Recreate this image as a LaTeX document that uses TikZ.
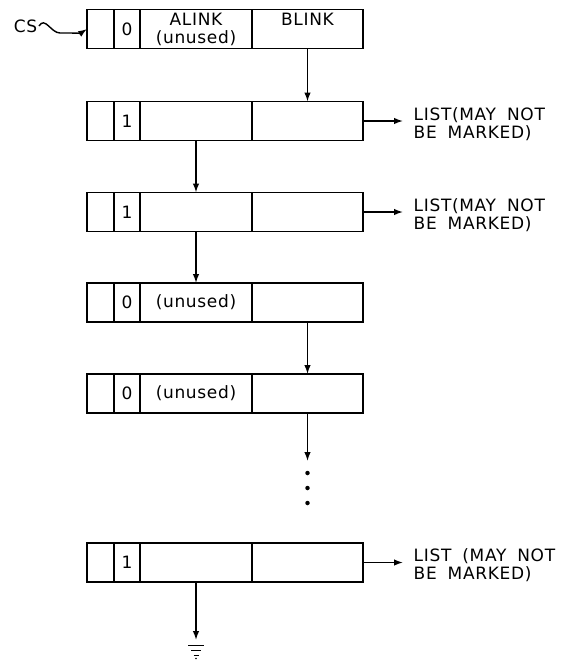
\documentclass[tikz,border=0pt]{standalone}
\usepackage{fontspec}
\setmainfont{DejaVu Sans}[LetterSpace=4, WordSpace=1.8]
\usepackage{tikz}
\usetikzlibrary{arrows.meta,positioning}

\tikzset{
  cell/.style={draw, rectangle, minimum height=39pt, inner sep=0pt, outer sep=0pt},
  note/.style={align=left, inner sep=0pt},
  dot/.style={circle, fill=black, inner sep=0pt, minimum size=4.5pt}
}

\begin{document}
\begin{tikzpicture}[x=1pt, y=-1pt, line width=1.4pt, >={Latex[length=9pt,width=6.5pt]},
  font=\fontsize{17}{18}\selectfont]
\path[use as bounding box] (0,0) rectangle (566,662);
% the cells, one row per list element
\foreach \r/\y/\bit/\atxt/\btxt in {0/29/0/{ALINK\\(unused)}/{BLINK\\\phantom{(unused)}},
    1/121/1/{}/{}, 2/212/1/{}/{}, 3/302.5/0/{(unused)}/{}, 4/393.5/0/{(unused)}/{}, 5/562.5/1/{}/{}} {
  \node[cell, minimum width=27pt, anchor=west] (f\r) at (87,\y) {};
  \node[cell, minimum width=26pt, right=0pt of f\r] (m\r) {\bit};
  \node[cell, minimum width=112pt, align=center, right=0pt of m\r] (a\r) {\atxt};
  \node[cell, minimum width=111pt, align=center, right=0pt of a\r] (b\r) {\btxt};
}
\node[inner sep=1pt, anchor=east] (cs) at (39,26) {CS};
\draw[->] (cs.east) .. controls +(6,-10) and +(-9,0) .. ++(21,7) .. controls +(10,0) and +(-6,4) .. (f0.west);
\node[note, right=50pt of b1, yshift=-3pt] (l1) {LIST(MAY NOT\\BE MARKED)};
\node[note, right=50pt of b2, yshift=-3pt] (l2) {LIST(MAY NOT\\BE MARKED)};
\node[note, right=50pt of b5, yshift=-3pt] (l5) {LIST (MAY NOT\\BE MARKED)};
\draw[->] (b1.east) -- ([xshift=-10pt]l1.west |- b1.east);
\draw[->] (b2.east) -- ([xshift=-10pt]l2.west |- b2.east);
\draw[->] (b5.east) -- ([xshift=-10pt]l5.west |- b5.east);
\draw[->] (b0) -- (b1);
\draw[->] (a1) -- (a2);
\draw[->] (a2) -- (a3);
\draw[->] (b3) -- (b4);
\coordinate[below=48pt of b4] (e4);
\draw[->] (b4) -- (e4);
\foreach \i/\dy in {1/60, 2/75, 3/90}
  \node[dot, below=\dy pt of b4.south, anchor=center] (d\i) {};
\coordinate[below=58pt of a5] (g);
\draw[->] (a5) -- (g);
\draw[line width=1pt] (g) ++(-8,5) -- ++(16,0)
  (g) ++(-5,10) -- ++(10,0)
  (g) ++(-2.5,15) -- ++(5,0);
\fill (g) ++(0,18.5) circle (0.9pt);
\end{tikzpicture}
\end{document}
